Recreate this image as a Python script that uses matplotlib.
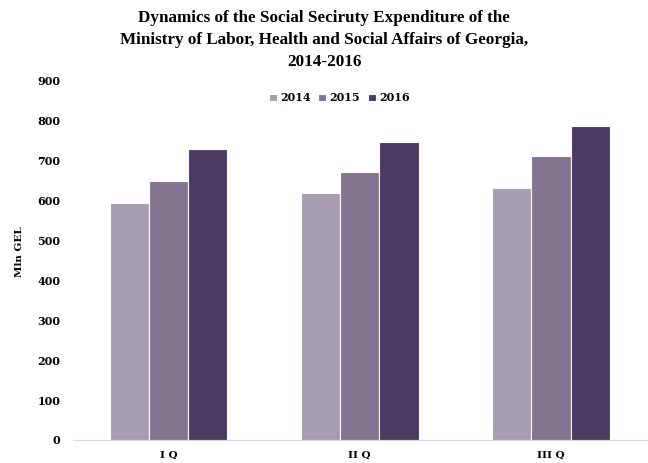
import numpy as np
import matplotlib.pyplot as plt

quarters = ['I Q', 'II Q', 'III Q']
years = ['2014', '2015', '2016']
v2014 = [594, 619, 632]
v2015 = [649, 672, 711]
v2016 = [729, 747, 787]
colors = ['#A69DB0', '#83758F', '#4D3A62']

plt.rcParams['font.family'] = ['DejaVu Serif']
plt.rcParams['font.weight'] = 'bold'

fig = plt.figure(figsize=(6.48, 4.63), dpi=100)
ax = fig.add_axes([0.1127, 0.0497, 0.885, 0.776])

x = np.arange(len(quarters))
w = 0.205
for i, (vals, yr) in enumerate(zip([v2014, v2015, v2016], years)):
    ax.bar(x + (i - 1) * w, vals, w, color=colors[i], edgecolor='white',
           linewidth=0.8, label=yr, zorder=2)

ax.set_xlim(-0.5, 2.5)
ax.set_ylim(0, 900)
ax.set_yticks(range(0, 901, 100))
ax.set_xticks(x)
ax.set_xticklabels(quarters, fontsize=7.5, fontweight='bold')
ax.tick_params(axis='y', labelsize=8, length=0, pad=9)
ax.tick_params(axis='x', length=0, pad=8)
for s in ['top', 'right', 'left']:
    ax.spines[s].set_visible(False)
ax.spines['bottom'].set_color('#D9D9D9')

ax.set_ylabel('Mln GEL', fontsize=7.5, fontweight='bold')
ax.yaxis.set_label_coords(-0.086, 0.525)

fig.suptitle('Dynamics of the Social Seciruty Expenditure of the\n'
             'Ministry of Labor, Health and Social Affairs of Georgia,\n'
             '2014-2016', fontsize=12.3, fontweight='bold', y=0.978,
             linespacing=1.5, family='Liberation Serif')

ax.legend(loc='upper center', bbox_to_anchor=(0.464, 0.995), ncol=3,
          frameon=False, fontsize=8, handlelength=0.7, handleheight=0.7,
          handletextpad=0.3, columnspacing=0.7)

fig.savefig('out.png', dpi=100)
